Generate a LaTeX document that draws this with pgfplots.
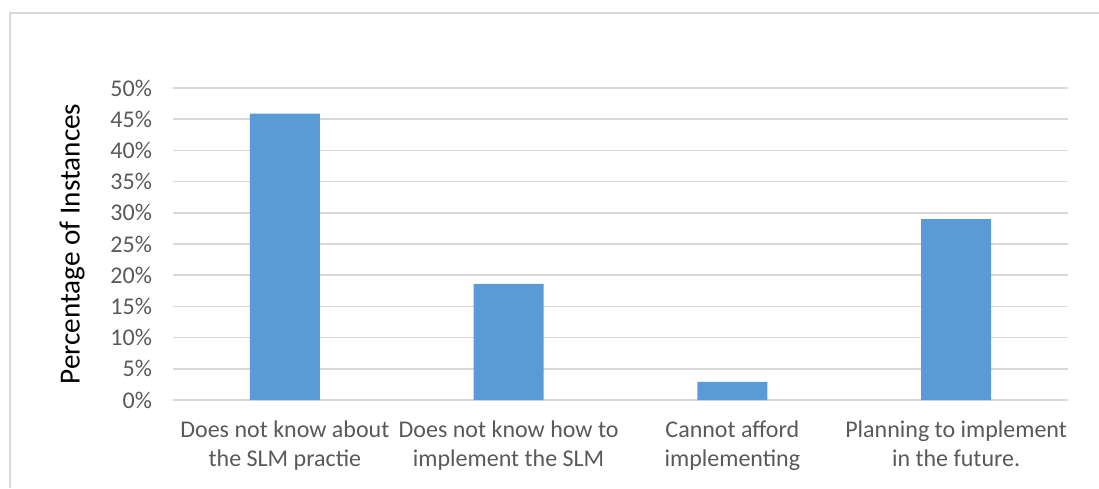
\documentclass[border=0pt]{standalone}
\usepackage{pgfplots}
\pgfplotsset{compat=1.18}
\usepackage{fontspec}
\setmainfont{Carlito}
\definecolor{barblue}{HTML}{5B9BD5}
\definecolor{gridgray}{HTML}{D9D9D9}
\definecolor{txtgray}{HTML}{595959}
\begin{document}
\begin{tikzpicture}
\useasboundingbox (0,0) rectangle (549.5pt,244pt);
\draw[gridgray, line width=0.8pt] (5pt,0) -- (5pt,237.5pt) -- (549.5pt,237.5pt);
\begin{axis}[
  at={(86.5pt,44pt)}, anchor=south west,
  scale only axis, width=447.5pt, height=156pt,
  xmin=-0.5, xmax=3.5, ymin=0, ymax=50,
  axis line style={draw=none},
  ytick={0,5,...,50},
  yticklabel={\pgfmathprintnumber{\tick}\%},
  /pgf/number format/assume math mode=true,
  yticklabel style={font=\fontsize{12}{14}\selectfont, text=txtgray, xshift=-7pt},
  xtick={0,1,2,3},
  xticklabels={{Does not know about\\the SLM practie},{Does not know how to\\implement the SLM},{Cannot afford\\implementing},{Planning to implement\\in the future.}},
  xticklabel style={font=\fontsize{12}{14.3}\selectfont, text=txtgray, align=center, yshift=-7pt},
  major tick length=0pt,
  ymajorgrids, grid style={gridgray, line width=0.8pt},
  ylabel={Percentage of Instances},
  ylabel style={at={(axis description cs:-0.1128,0.5)}, anchor=center, font=\fontsize{14.6}{16}\selectfont},
  clip=false,
]
\addplot[ybar, bar width=35pt, fill=barblue, draw=none] coordinates {(0,45.9) (1,18.6) (2,2.9) (3,29.0)};
\end{axis}
\end{tikzpicture}
\end{document}
